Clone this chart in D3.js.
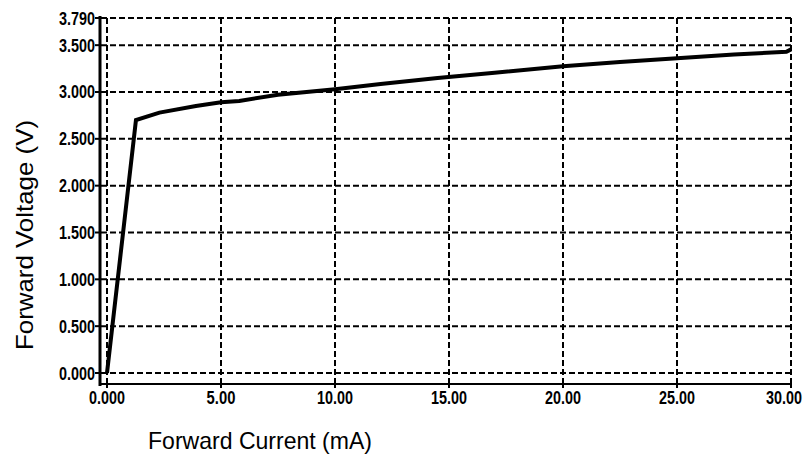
<!DOCTYPE html>
<html>
<head>
<meta charset="utf-8">
<script src="https://cdn.jsdelivr.net/npm/d3@7"></script>
<style>
  html, body { margin: 0; padding: 0; background: #fff; }
  svg { display: block; }
  .tick-label { font-family: "Liberation Sans", Arial, sans-serif; font-weight: bold; font-size: 18px; fill: #000; }
  .title { font-family: "Liberation Sans", Arial, sans-serif; font-size: 24px; fill: #000; }
</style>
</head>
<body>
<script>
// Data
const current = [0, 1.27, 2.3, 3.9, 5.0, 5.8, 7.5, 10, 12, 14.5, 17, 20, 22.5, 25, 27.5, 29.8, 30];
const voltage = [0, 2.70, 2.78, 2.85, 2.89, 2.905, 2.97, 3.03, 3.085, 3.15, 3.205, 3.275, 3.32, 3.36, 3.40, 3.43, 3.455];
const xTicks = [0, 5, 10, 15, 20, 25, 30];
const xTickLabels = ["0.000", "5.00", "10.00", "15.00", "20.00", "25.00", "30.00"];
const yTicks = [0, 0.5, 1, 1.5, 2, 2.5, 3, 3.5, 3.79];
const yTickLabels = ["0.000", "0.500", "1.000", "1.500", "2.000", "2.500", "3.000", "3.500", "3.790"];
const xTitle = "Forward Current (mA)";
const yTitle = "Forward Voltage (V)";

const W = 810, H = 466;
const svg = d3.select("body").append("svg").attr("width", W).attr("height", H);

const x = d3.scaleLinear().domain([0, 30]).range([107, 791]);
const y = d3.scaleLinear().domain([0, 3.79]).range([373, 18]);
const axisX = 100, axisY = 384;

// condensed width per character (approx. from reference)
const labelWidth = s => s.length * 7.2;

// Grid - horizontal
svg.append("g").selectAll("line").data(yTicks).join("line")
  .attr("x1", axisX + 1).attr("x2", x(30))
  .attr("y1", d => y(d)).attr("y2", d => y(d))
  .attr("stroke", "#000").attr("stroke-width", 2).attr("stroke-dasharray", "6,3");

// Grid - vertical
svg.append("g").selectAll("line").data(xTicks).join("line")
  .attr("x1", d => x(d)).attr("x2", d => x(d))
  .attr("y1", y(3.79)).attr("y2", axisY)
  .attr("stroke", "#000").attr("stroke-width", 2).attr("stroke-dasharray", "6,3");

// Axes lines
svg.append("line").attr("x1", axisX).attr("x2", axisX).attr("y1", y(3.79) - 2).attr("y2", axisY + 2)
  .attr("stroke", "#000").attr("stroke-width", 3);
svg.append("line").attr("x1", axisX).attr("x2", x(30) + 1).attr("y1", axisY).attr("y2", axisY)
  .attr("stroke", "#000").attr("stroke-width", 2);

// Tick marks
svg.append("g").selectAll("line").data(xTicks).join("line")
  .attr("x1", d => x(d)).attr("x2", d => x(d))
  .attr("y1", axisY - 2).attr("y2", axisY + 4)
  .attr("stroke", "#000").attr("stroke-width", 2);
svg.append("g").selectAll("line").data(yTicks).join("line")
  .attr("x1", axisX - 5).attr("x2", axisX)
  .attr("y1", d => y(d)).attr("y2", d => y(d))
  .attr("stroke", "#000").attr("stroke-width", 2);

// Tick labels
svg.append("g").selectAll("text").data(yTicks).join("text")
  .attr("class", "tick-label")
  .attr("x", axisX - 5).attr("y", d => y(d) + 6.5)
  .attr("text-anchor", "end")
  .attr("textLength", (d, i) => labelWidth(yTickLabels[i]))
  .attr("lengthAdjust", "spacingAndGlyphs")
  .text((d, i) => yTickLabels[i]);
svg.append("g").selectAll("text").data(xTicks).join("text")
  .attr("class", "tick-label")
  .attr("x", d => Math.min(x(d), W - 26)).attr("y", 404)
  .attr("text-anchor", "middle")
  .attr("textLength", (d, i) => labelWidth(xTickLabels[i]))
  .attr("lengthAdjust", "spacingAndGlyphs")
  .text((d, i) => xTickLabels[i]);

// Data line
const pts = current.map((c, i) => [c, voltage[i]]);
svg.append("path").datum(pts)
  .attr("fill", "none").attr("stroke", "#000").attr("stroke-width", 4)
  .attr("stroke-linejoin", "miter")
  .attr("d", d3.line().x(d => x(d[0])).y(d => y(d[1])));

// Titles
svg.append("text").attr("class", "title")
  .attr("x", 148).attr("y", 449)
  .attr("textLength", 224).attr("lengthAdjust", "spacingAndGlyphs")
  .text(xTitle);
svg.append("text").attr("class", "title")
  .attr("transform", "translate(33,235) rotate(-90)")
  .attr("text-anchor", "middle")
  .attr("textLength", 230).attr("lengthAdjust", "spacingAndGlyphs")
  .text(yTitle);
</script>
</body>
</html>
